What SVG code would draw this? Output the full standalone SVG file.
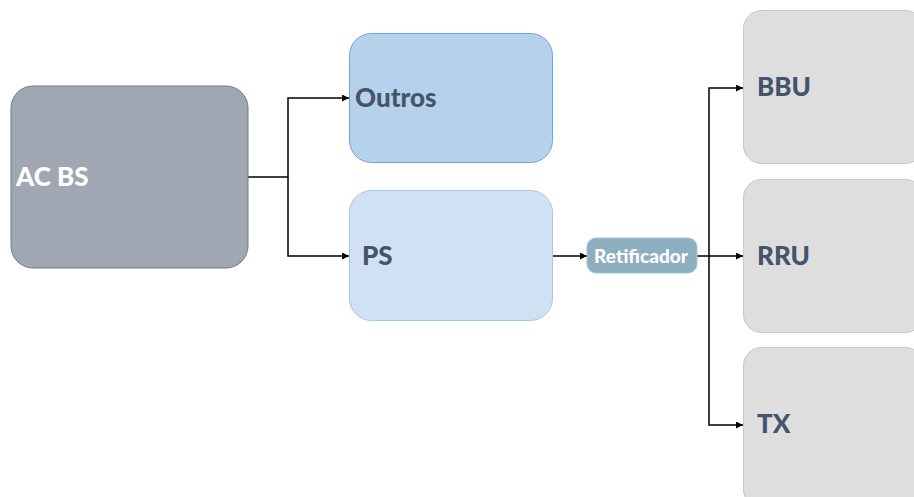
<svg xmlns="http://www.w3.org/2000/svg" width="914" height="497" viewBox="0 0 914 497">
  <defs>
    <marker id="arrow" viewBox="0 0 10 10" refX="10" refY="5" markerWidth="7" markerHeight="7" markerUnits="userSpaceOnUse" orient="auto">
      <path d="M0,0 L10,5 L0,10 z" fill="#000"/>
    </marker>
    <style>
      .lbl { font-family: Lato, "Open Sans", "Liberation Sans", sans-serif; font-weight: 900; }
      .dark { fill: #44546a; font-size: 26px; }
      .edge { fill: none; stroke: #000; stroke-width: 1.5; }
      .unit { fill: #dedede; stroke: #c8c8c8; stroke-width: 1; }
    </style>
  </defs>
  <rect width="914" height="497" fill="#fff"/>

  <g id="connectors">
    <path class="edge" d="M248,177 H288 V98 H349" marker-end="url(#arrow)"/>
    <path class="edge" d="M288,177 V256 H349" marker-end="url(#arrow)"/>
    <path class="edge" d="M553,256 H587" marker-end="url(#arrow)"/>
    <path class="edge" d="M697,256 H743" marker-end="url(#arrow)"/>
    <path class="edge" d="M709,256 V88 H743" marker-end="url(#arrow)"/>
    <path class="edge" d="M709,256 V425 H743" marker-end="url(#arrow)"/>
  </g>

  <g id="ac-bs">
    <rect x="11" y="86" width="237" height="182" rx="22" fill="#a0a7b2" stroke="#6f7a8a" stroke-width="1"/>
    <text class="lbl" x="16" y="186" font-size="26" fill="#fff">AC BS</text>
  </g>

  <g id="outros">
    <rect x="349.5" y="33.5" width="203" height="129" rx="22" fill="#b5d1ec" stroke="#6fa3dc" stroke-width="1"/>
    <text class="lbl dark" x="355" y="107">Outros</text>
  </g>

  <g id="ps">
    <rect x="349.5" y="190.5" width="203" height="130" rx="22" fill="#cfe1f3" stroke="#a6c8ec" stroke-width="1"/>
    <text class="lbl dark" x="362" y="265">PS</text>
  </g>

  <g id="retificador">
    <rect x="587" y="238" width="110" height="35" rx="9" fill="#8eafc0" stroke="#a9c2cf" stroke-width="1"/>
    <text class="lbl" x="641" y="263" font-size="19" fill="#fff" text-anchor="middle">Retificador</text>
  </g>

  <g id="bbu">
    <rect class="unit" x="743.5" y="10.5" width="180" height="153" rx="18"/>
    <text class="lbl dark" x="757" y="96">BBU</text>
  </g>

  <g id="rru">
    <rect class="unit" x="743.5" y="179.5" width="180" height="153" rx="18"/>
    <text class="lbl dark" x="757" y="265">RRU</text>
  </g>

  <g id="tx">
    <rect class="unit" x="743.5" y="347.5" width="180" height="160" rx="18"/>
    <text class="lbl dark" x="757" y="433">TX</text>
  </g>
</svg>
